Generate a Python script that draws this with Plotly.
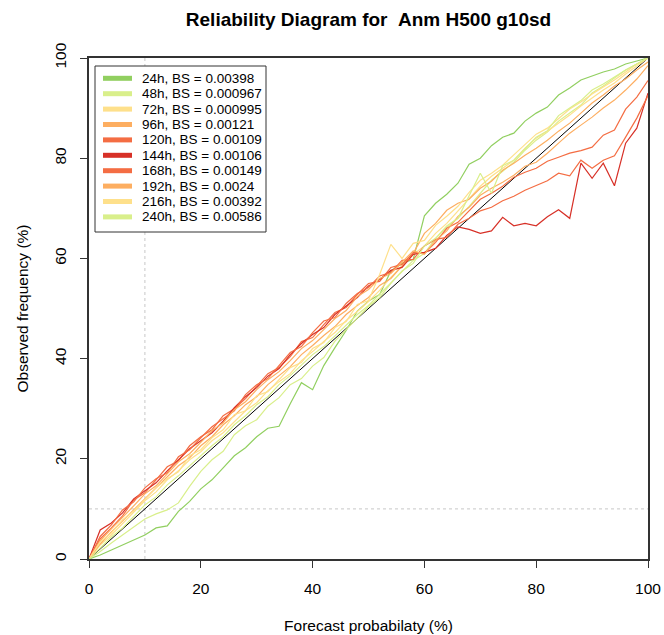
import plotly.graph_objects as go

# ---------------- data ----------------
forecast_prob = list(range(0, 101, 2))  # forecast probability bins (%)

lead_labels = ["24h", "48h", "72h", "96h", "120h", "144h", "168h", "192h", "216h", "240h"]
brier_scores = ["0.00398", "0.000967", "0.000995", "0.00121", "0.00109",
                "0.00106", "0.00149", "0.0024", "0.00392", "0.00586"]
line_colors = ["#91CF60", "#D9EF8B", "#FEE08B", "#FDAE61", "#F46D43",
               "#D73027", "#F46D43", "#FDAE61", "#FEE08B", "#D9EF8B"]

obs_24h = [0, 0.8, 1.8, 2.8, 3.8, 4.8, 6.2, 6.6, 9.5, 11.5, 14, 15.8, 18.2, 20.6, 22.2, 24.4, 26.1,
           26.5, 31, 35.2, 33.8, 38.6, 42.2, 45.6, 49.5, 51.5, 52.8, 57.5, 59, 59.8, 68.5, 71, 72.8,
           75, 78.8, 80, 82.5, 84.2, 85, 87.4, 89, 90.2, 92.6, 94, 95.6, 96.4, 97.2, 97.8, 98.8, 99.4, 100]
obs_48h = [0, 2.2, 4.4, 6.2, 8.6, 10.8, 12.4, 14.8, 16.6, 18.6, 20.6, 22.6, 24.4, 26.8, 28.6, 30.8,
           32.4, 34.8, 36.6, 38.6, 40.8, 42.4, 44.6, 46.8, 48.8, 50.6, 52.8, 55, 57.2, 59.6, 61, 64,
           66.2, 68, 70.4, 73, 75.6, 77.4, 79.2, 81.6, 83.6, 85.2, 87.4, 89, 90.6, 93, 94.4, 96, 97.6, 98.8, 100]
obs_72h = [0, 2.8, 4.8, 7, 9.2, 11.6, 13.4, 15.8, 17.6, 19.8, 21.4, 23.6, 25.2, 27.4, 29.6, 31.2,
           33.6, 35.4, 37, 39.6, 41.4, 43.4, 45.2, 47.6, 49.4, 51.4, 53.6, 56.2, 58.6, 60.8, 62.5, 65,
           67, 69.4, 72, 74.4, 76.4, 78, 79.6, 82, 84, 85.4, 87, 88.6, 90.4, 92, 93.6, 95, 96.8, 98.4, 100]
obs_96h = [0, 3, 5.4, 7.6, 10, 12.2, 14.4, 16.4, 18.6, 20.2, 22.6, 24.4, 26.8, 28.6, 30.8, 32.4,
           34.8, 36.6, 38.4, 40.8, 42.6, 44.6, 46.4, 48.8, 50.6, 52.2, 54.6, 56, 58.4, 61, 65, 67,
           69.6, 71, 71.8, 74, 75.4, 77.6, 79, 80.6, 82, 83.6, 85.4, 87, 89, 91, 92.6, 94.4, 95.8, 97.6, 99.2]
obs_120h = [0, 4, 6.2, 8.6, 11.8, 13.2, 15.8, 18.4, 19.6, 22.6, 24.4, 25.8, 28.6, 30, 32, 34.6,
            37, 38.2, 40.4, 43.4, 44.2, 46.8, 49.2, 50.2, 52.8, 55, 55.4, 58.2, 58.8, 61.2, 61, 63.2,
            66, 67.2, 69.6, 71.8, 73, 74.4, 76.2, 77.2, 78, 79.4, 80.2, 81, 81.5, 82.2, 84.6, 85.6, 89.8, 92.2, 95.5]
obs_144h = [0, 5.8, 7.2, 9.2, 12, 13.6, 15.2, 17.6, 19.8, 22, 23.6, 25.2, 27.5, 30.2, 32.4, 34.2,
            36.5, 38, 40.8, 43, 44.8, 46.2, 48.8, 50.5, 52.2, 54.5, 55.8, 57.6, 58.2, 60.8, 61.2, 62,
            64.6, 66.3, 65.8, 65, 65.5, 68.2, 66.5, 67, 66.5, 68.3, 69.7, 68, 79, 76, 79, 74.5, 83, 86, 93]
obs_168h = [0, 4.5, 6.8, 9.8, 11.4, 14.2, 16, 17.2, 20.4, 21.8, 24.2, 26.4, 28, 29.6, 32.8, 34.8,
            36, 38.6, 41.2, 42.4, 45.2, 47.5, 48.2, 51, 53, 54.2, 56.5, 57.2, 59.6, 59.8, 62.5, 63.8,
            64.2, 66.8, 68, 69.5, 70.2, 71.5, 72.4, 73.6, 74.5, 75.5, 77, 76.5, 79.6, 78, 79.6, 80.5, 84.2, 88, 92.5]
obs_192h = [0, 3.6, 6, 8.2, 10.6, 13, 14.6, 17, 19.4, 21, 23.2, 25.6, 27.2, 29.8, 31.4, 33.8,
            35.8, 37.4, 39.6, 42, 43.6, 45.8, 48, 49.6, 52.4, 53.8, 56, 57, 59.2, 61.5, 60.8, 63.6,
            65.5, 68.4, 70.2, 72.6, 74, 75.2, 76.6, 78.4, 79.2, 81, 83, 85, 86.6, 88.2, 90, 91.6, 93.6, 95.8, 98.5]
obs_216h = [0, 3.4, 5.2, 7.8, 9.6, 12, 14.2, 16, 17.4, 20.6, 21.8, 24.2, 25.8, 28.8, 29.6, 32.6,
            33.4, 35.8, 38.2, 39.2, 42, 43.2, 46.2, 47.4, 50.8, 51.6, 56.8, 62.8, 60, 63, 63.6, 66.6,
            68.4, 70.4, 73.2, 75.6, 77, 78.6, 80.6, 82.6, 84.8, 86, 88, 89.8, 91.2, 92.8, 94.2, 95.6, 97.2, 98.8, 100]
obs_240h = [0, 1.5, 3.2, 4.8, 6.5, 8, 9, 9.8, 11.2, 14.5, 17.5, 19.8, 21.5, 24.8, 26.6, 27.8,
            30.5, 32.2, 34.8, 36, 38.5, 40.2, 43.5, 45.8, 48.2, 50.4, 52.2, 55, 57.5, 59, 62.5, 64,
            66.5, 68, 72.5, 77, 73, 78.5, 79.6, 82, 84.2, 85.5, 88.5, 90, 91.5, 93.6, 94.8, 96.2, 97.6, 98.8, 100]

observed = [obs_24h, obs_48h, obs_72h, obs_96h, obs_120h,
            obs_144h, obs_168h, obs_192h, obs_216h, obs_240h]

perfect = [0, 100]          # perfect reliability diagonal
climatology = 10            # climatological frequency (%)
axis_ticks = [0, 20, 40, 60, 80, 100]

# ---------------- layout constants (pixels) ----------------
W, H = 664, 635
PL, PR, PT, PB = 89, 648, 58, 559          # plot area edges
FONT = "Liberation Sans, Arial, sans-serif"

def px_x(px):
    return (px - PL) / (PR - PL)

def px_y(py):
    return (PB - py) / (PB - PT)

fig = go.Figure()

fig.add_vline(x=climatology, line=dict(color="#C8C8C8", width=1, dash="dot"), layer="below")
fig.add_hline(y=climatology, line=dict(color="#C8C8C8", width=1, dash="dot"), layer="below")

fig.add_trace(go.Scatter(x=perfect, y=perfect, mode="lines",
                         line=dict(color="black", width=1), showlegend=False, hoverinfo="skip"))

for lab, bs, col, obs in zip(lead_labels, brier_scores, line_colors, observed):
    fig.add_trace(go.Scatter(x=forecast_prob, y=obs, mode="lines",
                             line=dict(color=col, width=1.2), showlegend=False,
                             name=f"{lab}, BS = {bs}"))

# ---------------- legend (drawn as a box with line swatches and labels) ----------------
LEG_L, LEG_R, LEG_T, LEG_B = 95, 266, 66, 232
ROW0, ROW_STEP = 78.3, 15.4
SW_L, SW_R, TXT_X = 103, 132, 140

fig.add_shape(type="rect", xref="paper", yref="paper",
              x0=px_x(LEG_L), x1=px_x(LEG_R), y0=px_y(LEG_B), y1=px_y(LEG_T),
              line=dict(color="#333333", width=1), fillcolor="white", layer="above")
for i, (lab, bs, col) in enumerate(zip(lead_labels, brier_scores, line_colors)):
    yy = px_y(ROW0 + i * ROW_STEP)
    fig.add_shape(type="line", xref="paper", yref="paper",
                  x0=px_x(SW_L), x1=px_x(SW_R), y0=yy, y1=yy,
                  line=dict(color=col, width=5), layer="above")
    fig.add_annotation(xref="paper", yref="paper", x=px_x(TXT_X), y=yy,
                       xanchor="left", yanchor="middle", showarrow=False,
                       text=f"{lab}, BS = {bs}",
                       font=dict(family=FONT, size=13.5, color="black"))

axis_common = dict(range=[0, 100], tickvals=axis_ticks, showgrid=False, zeroline=False,
                   showline=True, mirror=True, linecolor="#333333", linewidth=1.5,
                   ticks="outside", ticklen=7, tickcolor="#333333", tickwidth=1,
                   automargin=False,
                   tickfont=dict(family=FONT, size=15.5, color="black"))

fig.update_layout(
    width=W, height=H,
    paper_bgcolor="white", plot_bgcolor="white",
    margin=dict(l=PL, r=W - PR, t=PT, b=H - PB),
    title=dict(text="<b>Reliability Diagram for\u00a0\u00a0Anm H500 g10sd</b>",
               x=(PL + PR) / 2 / W, xanchor="center", y=1 - 19 / H, yanchor="middle",
               font=dict(family=FONT, size=19, color="black")),
    xaxis=dict(**axis_common, ticklabelstandoff=8,
               title=dict(text="Forecast probabilaty (%)", standoff=24,
                          font=dict(family=FONT, size=15.5, color="black"))),
    yaxis=dict(**axis_common, tickangle=-90, ticklabelstandoff=8,
               title=dict(text="Observed frequency (%)", standoff=20,
                          font=dict(family=FONT, size=15.5, color="black"))),
    showlegend=False,
)

fig.write_html("out.html", config={"displayModeBar": False},
               post_script="document.body.style.margin='0px';document.body.style.padding='0px';")
